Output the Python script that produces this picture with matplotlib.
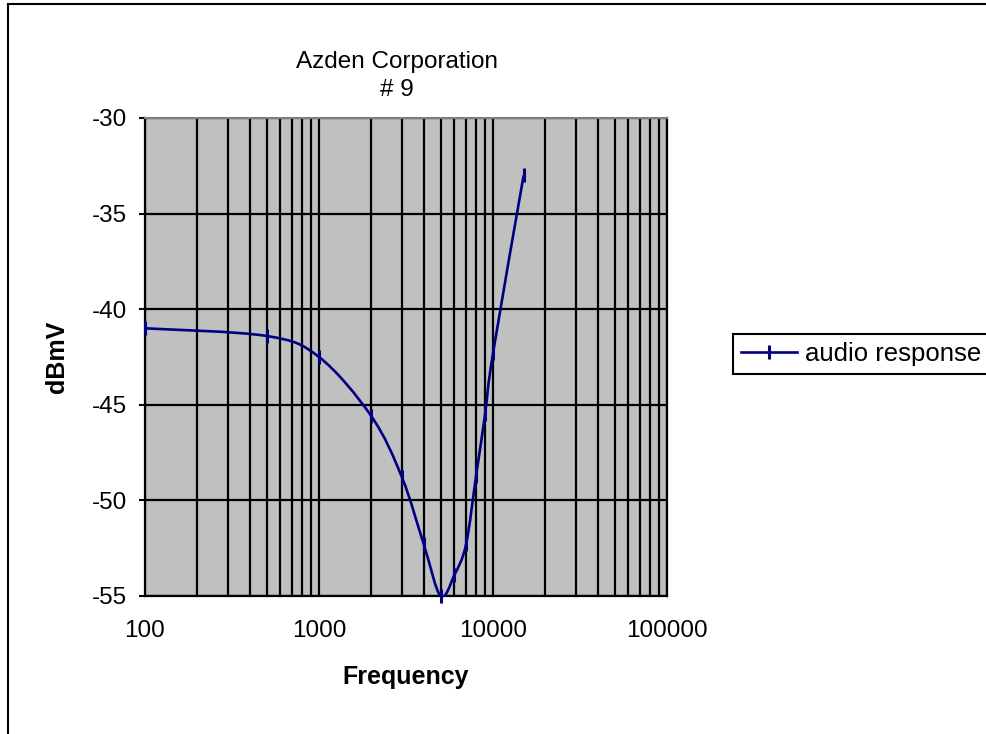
import matplotlib
matplotlib.use('Agg')
import matplotlib.pyplot as plt
import numpy as np
from matplotlib.path import Path
from matplotlib.patches import PathPatch, Rectangle
from matplotlib.lines import Line2D

plt.rcParams['font.family'] = ['Liberation Sans', 'DejaVu Sans']
plt.rcParams['axes.unicode_minus'] = False

freq = [100, 500, 1000, 2000, 3000, 4000, 5000, 6000, 7000, 8000, 9000, 10000, 15000]
dbmv = [-41.0, -41.4, -42.5, -45.6, -48.8, -52.3, -55.0, -53.9, -52.3, -48.7, -45.5, -42.3, -33.0]
x_ticks = [100, 1000, 10000, 100000]
x_tick_labels = ['100', '1000', '10000', '100000']
y_ticks = [-30, -35, -40, -45, -50, -55]

LINE = '#000080'


def smooth_path(xs, ys):
    """Excel-like smoothed line: cubic bezier through points in log-x space"""
    lx = np.log10(xs)
    ys = np.asarray(ys, float)
    n = len(lx)
    verts = [(xs[0], ys[0])]
    codes = [Path.MOVETO]
    for i in range(n - 1):
        i0, i3 = max(i - 1, 0), min(i + 2, n - 1)
        c1 = (lx[i] + (lx[i + 1] - lx[i0]) / 6, ys[i] + (ys[i + 1] - ys[i0]) / 6)
        c2 = (lx[i + 1] - (lx[i3] - lx[i]) / 6, ys[i + 1] - (ys[i3] - ys[i]) / 6)
        verts += [(10 ** c1[0], c1[1]), (10 ** c2[0], c2[1]), (xs[i + 1], ys[i + 1])]
        codes += [Path.CURVE4] * 3
    return Path(verts, codes)


fig = plt.figure(figsize=(9.86, 7.34), dpi=100)
ax = fig.add_axes([145 / 986, 1 - 596 / 734, 522 / 986, 478 / 734])
ax.set_facecolor('#c0c0c0')

ax.set_xscale('log')
ax.set_xlim(100, 100000)
ax.set_ylim(-55, -30)

ax.set_xticks(x_ticks)
ax.set_xticklabels(x_tick_labels)
ax.set_yticks(y_ticks)
ax.tick_params(axis='x', which='both', length=0, pad=17, labelsize=17.5)
ax.tick_params(axis='y', length=4, width=1.5, pad=9, labelsize=17.5, direction='out')

ax.grid(True, which='both', axis='x', color='black', linewidth=1.6)
ax.grid(True, which='major', axis='y', color='black', linewidth=1.6)
ax.set_axisbelow(True)

for side in ['left', 'bottom', 'right']:
    ax.spines[side].set_color('black')
    ax.spines[side].set_linewidth(1.6)
ax.spines['top'].set_color('#808080')
ax.spines['top'].set_linewidth(1.5)

ax.add_patch(PathPatch(smooth_path(freq, dbmv), facecolor='none', edgecolor=LINE,
                       linewidth=1.9, zorder=3))
ax.plot(freq, dbmv, linestyle='none', marker='|', markersize=10, markeredgewidth=2.2,
        color=LINE, zorder=4, clip_on=False)

ax.set_xlabel('Frequency', fontsize=18, fontweight='bold')
ax.xaxis.set_label_coords(0.5, -0.145)
ax.set_ylabel('dBmV', fontsize=18, fontweight='bold')
ax.yaxis.set_label_coords(-0.145, 0.5)

fig.text(397 / 986, 1 - 76 / 734, 'Azden Corporation\n# 9', ha='center', va='center',
         fontsize=17.5, linespacing=1.37)

handle = Line2D([], [], color=LINE, linewidth=1.9, marker='|', markersize=10,
                markeredgewidth=2.2)
leg = fig.legend([handle], ['audio response'], loc='center left',
                 bbox_to_anchor=(733 / 986, 1 - 354 / 734), fontsize=18.5,
                 fancybox=False, edgecolor='black', framealpha=1,
                 handlelength=2.2, handletextpad=0.3, borderpad=0.3,
                 borderaxespad=0)
leg.get_frame().set_linewidth(1.5)

# outer chart border (only left and top edges fall inside the image)
fig.patches.append(Rectangle((8 / 986, -0.5), 2, 1.5 - 4 / 734, transform=fig.transFigure,
                             fill=False, edgecolor='black', linewidth=1.5))

fig.savefig('out.png', dpi=100)
